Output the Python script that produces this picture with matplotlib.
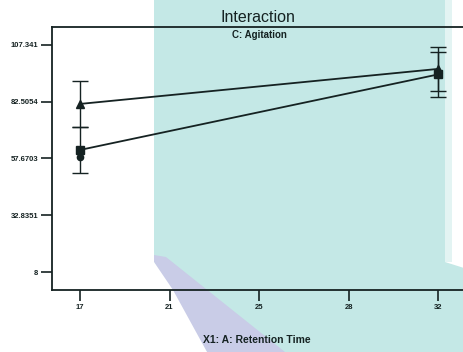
import matplotlib
matplotlib.use("Agg")
import matplotlib.pyplot as plt
from matplotlib.patches import Polygon

plt.rcParams.update({"font.family": ["Liberation Sans", "DejaVu Sans"], "font.size": 6})

# data
retention = [17, 32]
agit_high = [81.5, 96.8]      # triangle series
agit_high_err = [9.9, 9.5]
agit_low = [61.4, 94.4]       # square series
agit_low_err = [10.0, 9.8]
design_x = [17]
design_y = [58.3]

xticks = [17, 20.75, 24.5, 28.25, 32]
xtick_labels = ["17", "21", "25", "28", "32"]
yticks = [8, 32.8351, 57.6703, 82.5054, 107.341]
ytick_labels = ["8", "32.8351", "57.6703", "82.5054", "107.341"]

W, H = 464, 352
fig = plt.figure(figsize=(W / 100, H / 100), dpi=100)


def px(pts):
    return [(x / W, 1 - y / H) for x, y in pts]


# scan background (teal sheet, lighter strip, lavender band, white corner)
TEAL, LIGHT, LAV = "#c4e8e6", "#e3f4f3", "#c9cce7"
for pts, c in [
    ([(154, 0), (445, 0), (445, 262), (464, 268), (464, 352), (154, 352)], TEAL),
    ([(445, 0), (452, 0), (452, 262), (445, 262)], LIGHT),
    ([(154, 255), (166, 257), (285, 352), (207, 352), (154, 262)], LAV),
    ([(154, 262), (173, 290), (207, 352), (154, 352)], "white"),
]:
    fig.patches.append(Polygon(px(pts), closed=True, fc=c, ec="none",
                               transform=fig.transFigure, zorder=0))

ax = fig.add_axes([52 / W, 1 - 290 / H, 1 - 52 / W, (290 - 27) / H])
ax.set_zorder(2)
ax.patch.set_visible(False)
ax.set_xlim(15.83, 33.08)
ax.set_ylim(0.24, 115.1)

INK = "#152222"
ax.errorbar(retention, agit_high, yerr=agit_high_err, color=INK, lw=1.3, elinewidth=1.0,
            capsize=6, capthick=1.0, marker="^", ms=6)
ax.errorbar(retention, agit_low, yerr=agit_low_err, color=INK, lw=1.3, elinewidth=1.0,
            capsize=6, capthick=1.0, marker="s", ms=5.5)
ax.plot(design_x, design_y, "o", color=INK, ms=4.5)

ax.set_xticks(xticks, xtick_labels)
ax.set_yticks(yticks, ytick_labels)
ax.tick_params(colors=INK, width=1.2, length=8, labelsize=5.5, pad=2)
for lab in ax.get_xticklabels() + ax.get_yticklabels():
    lab.set_fontweight("bold")
ax.spines["right"].set_visible(False)
for s in ("left", "top", "bottom"):
    ax.spines[s].set_color(INK)
    ax.spines[s].set_linewidth(1.3)

fig.text(258 / W, 1 - 18 / H, "Interaction", ha="center", va="center", fontsize=11.5, color=INK)
fig.text(259 / W, 1 - 35 / H, "C: Agitation", ha="center", va="center", fontsize=7, fontweight="bold", color=INK)
fig.text(257 / W, 1 - 340 / H, "X1: A: Retention Time", ha="center", va="center", fontsize=7.5, fontweight="bold", color=INK)

fig.savefig("out.png", dpi=100)
